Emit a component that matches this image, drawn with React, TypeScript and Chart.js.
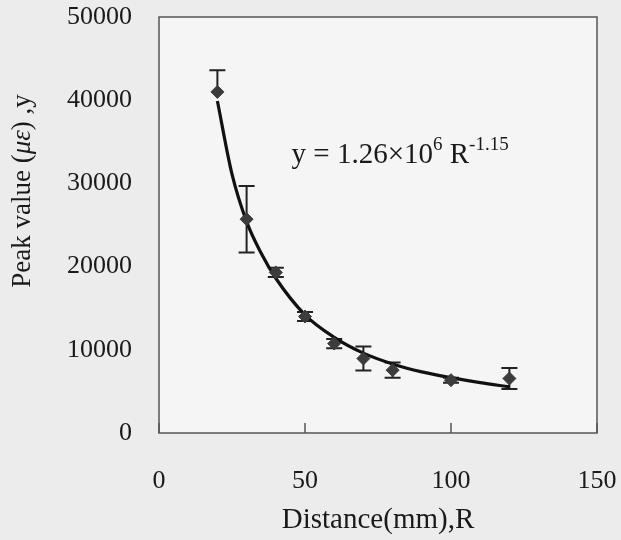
import React, { useEffect, useRef } from "react";
import { Chart, registerables } from "chart.js";

Chart.register(...registerables);

const distances = [20, 30, 40, 50, 60, 70, 80, 100, 120];
const peakValues = [41000, 25700, 19300, 14000, 10750, 8950, 7550, 6350, 6550];
const errorUp = [2600, 4000, 550, 550, 550, 1450, 920, 300, 1250];
const errorDown = [0, 4000, 550, 550, 550, 1450, 920, 300, 1250];
const fitDistances = [20, 25, 30, 35, 40, 50, 60, 70, 80, 90, 100, 110, 120];
const fitValues = [39900, 31100, 25400, 21600, 18600, 14200, 11500, 9600, 8300, 7350, 6650, 6050, 5550];
const xTicks = [0, 50, 100, 150];
const yTicks = [0, 10000, 20000, 30000, 40000, 50000];
const xTitle = "Distance(mm),R";
const equationParts = ["y = 1.26×10", "6", " R", "-1.15"];
const equationAt = { x: 45.4, y: 32400 };

const SERIF = '"Liberation Serif", "Times New Roman", serif';
const INK = "#1a1a1a";

const decorPlugin = {
  id: "decor",
  beforeDraw(chart: any) {
    const { ctx, chartArea: a, width, height } = chart;
    ctx.save();
    ctx.fillStyle = "#ececec";
    ctx.fillRect(0, 0, width, height);
    ctx.fillStyle = "#f5f5f5";
    ctx.fillRect(a.left, a.top, a.right - a.left, a.bottom - a.top);
    ctx.restore();
  },
  beforeDatasetsDraw(chart: any) {
    const { ctx, scales } = chart;
    const xs = scales.x;
    const ys = scales.y;
    ctx.save();
    ctx.strokeStyle = "#222";
    ctx.lineWidth = 2;
    distances.forEach((d, i) => {
      const px = xs.getPixelForValue(d);
      const top = ys.getPixelForValue(peakValues[i] + errorUp[i]);
      const bot = ys.getPixelForValue(peakValues[i] - errorDown[i]);
      ctx.beginPath();
      ctx.moveTo(px, top);
      ctx.lineTo(px, bot);
      if (errorUp[i] > 0) {
        ctx.moveTo(px - 8, top);
        ctx.lineTo(px + 8, top);
      }
      if (errorDown[i] > 0) {
        ctx.moveTo(px - 8, bot);
        ctx.lineTo(px + 8, bot);
      }
      ctx.stroke();
    });
    ctx.restore();
  },
  afterDraw(chart: any) {
    const { ctx, chartArea: a, scales } = chart;
    const xs = scales.x;
    const ys = scales.y;
    ctx.save();
    ctx.strokeStyle = "#555";
    ctx.lineWidth = 1.5;
    ctx.strokeRect(a.left, a.top, a.right - a.left, a.bottom - a.top);
    xTicks.forEach((t) => {
      const px = xs.getPixelForValue(t);
      ctx.beginPath();
      ctx.moveTo(px, a.bottom);
      ctx.lineTo(px, a.bottom - 10);
      ctx.stroke();
    });
    ctx.fillStyle = INK;
    ctx.textBaseline = "alphabetic";
    ctx.textAlign = "left";
    let x = xs.getPixelForValue(equationAt.x);
    const base = ys.getPixelForValue(equationAt.y);
    const sizes = [29, 19, 29, 19];
    const rises = [0, -13, 0, -13];
    equationParts.forEach((p, i) => {
      ctx.font = `${sizes[i]}px ${SERIF}`;
      ctx.fillText(p, x, base + rises[i]);
      x += ctx.measureText(p).width;
    });
    const parts = [
      { t: "Peak value (", it: false },
      { t: "με", it: true },
      { t: ") ,y", it: false },
    ];
    const fs = 27;
    let total = 0;
    parts.forEach((p) => {
      ctx.font = `${p.it ? "italic " : ""}${fs}px ${SERIF}`;
      total += ctx.measureText(p.t).width;
    });
    ctx.translate(23, 191);
    ctx.rotate(-Math.PI / 2);
    ctx.textBaseline = "middle";
    let tx = -total / 2;
    parts.forEach((p) => {
      ctx.font = `${p.it ? "italic " : ""}${fs}px ${SERIF}`;
      ctx.fillText(p.t, tx, 0);
      tx += ctx.measureText(p.t).width;
    });
    ctx.restore();
  },
};

const noPad = (s: any) => {
  s.paddingLeft = 0;
  s.paddingRight = 0;
  s.paddingTop = 0;
  s.paddingBottom = 0;
};

export default function App() {
  const ref = useRef<HTMLCanvasElement>(null);
  useEffect(() => {
    if (!ref.current) return;
    const chart = new Chart(ref.current, {
      type: "scatter",
      data: {
        datasets: [
          {
            label: "fit",
            type: "line",
            data: fitDistances.map((d, i) => ({ x: d, y: fitValues[i] })),
            borderColor: "#111",
            borderWidth: 3.2,
            pointRadius: 0,
            cubicInterpolationMode: "monotone",
            fill: false,
            order: 2,
          },
          {
            label: "measured",
            data: distances.map((d, i) => ({ x: d, y: peakValues[i] })),
            pointStyle: "rectRot",
            pointRadius: 6.5,
            backgroundColor: "#3c3c3c",
            borderColor: "#3c3c3c",
            borderWidth: 1,
            order: 1,
          },
        ],
      } as any,
      options: {
        animation: false,
        responsive: false,
        layout: { padding: { top: 17, right: 24, left: 0, bottom: 0 } },
        plugins: { legend: { display: false }, tooltip: { enabled: false } },
        scales: {
          x: {
            type: "linear",
            min: 0,
            max: 150,
            afterBuildTicks: (s: any) => {
              s.ticks = xTicks.map((v) => ({ value: v }));
            },
            afterFit: (s: any) => {
              s.height = 107;
              noPad(s);
            },
            ticks: {
              font: { family: SERIF, size: 26 },
              color: INK,
              padding: 33,
              maxRotation: 0,
              callback: (v: any) => String(v),
            },
            grid: { display: false, drawTicks: false },
            border: { display: false },
            title: {
              display: true,
              text: xTitle,
              font: { family: SERIF, size: 29 },
              color: INK,
              padding: { top: 0, bottom: 2 },
            },
          },
          y: {
            type: "linear",
            min: 0,
            max: 50000,
            afterBuildTicks: (s: any) => {
              s.ticks = yTicks.map((v) => ({ value: v }));
            },
            afterFit: (s: any) => {
              s.width = 159;
              noPad(s);
            },
            ticks: {
              font: { family: SERIF, size: 26 },
              color: INK,
              padding: 27,
              callback: (v: any) => String(v),
            },
            grid: { display: false, drawTicks: false },
            border: { display: false },
          },
        },
      } as any,
      plugins: [decorPlugin],
    });
    return () => chart.destroy();
  }, []);
  return (
    <div style={{ position: "fixed", left: 0, top: 0, width: 621, height: 540 }}>
      <canvas ref={ref} width={621} height={540} style={{ display: "block" }} />
    </div>
  );
}
